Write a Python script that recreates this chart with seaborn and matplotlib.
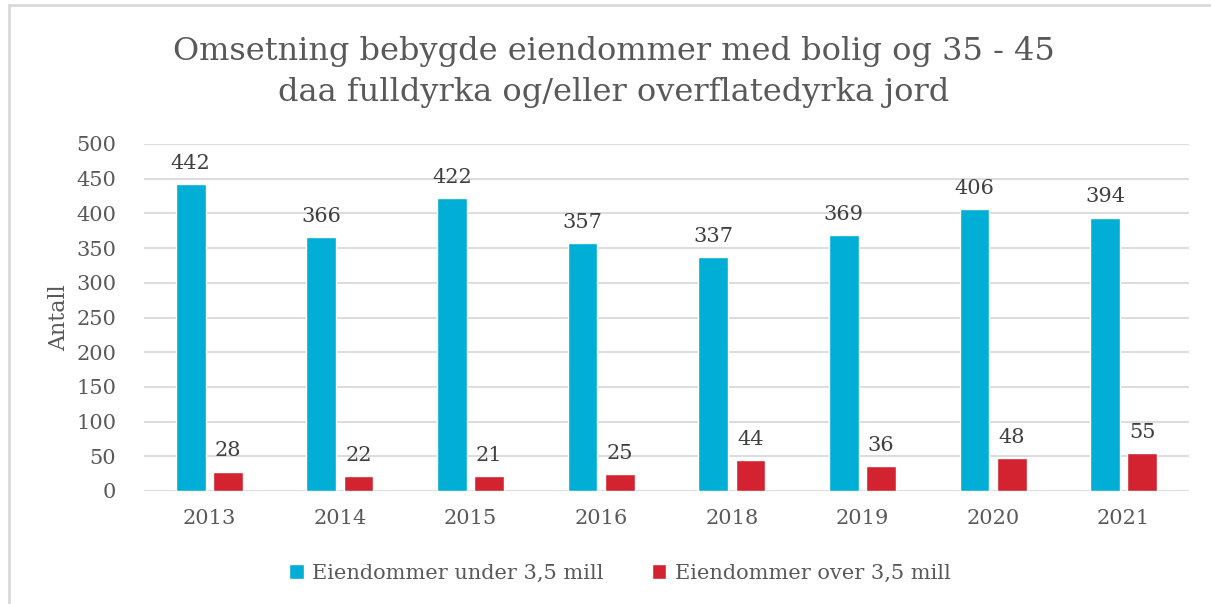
import matplotlib
matplotlib.use("Agg")
import matplotlib.pyplot as plt
import pandas as pd
import seaborn as sns
from matplotlib.patches import Rectangle

years = ["2013", "2014", "2015", "2016", "2018", "2019", "2020", "2021"]
under = [442, 366, 422, 357, 337, 369, 406, 394]
over = [28, 22, 21, 25, 44, 36, 48, 55]
series = ["Eiendommer under 3,5 mill", "Eiendommer over 3,5 mill"]
colors = ["#00AED6", "#D42330"]
txt = "#595959"

df = pd.DataFrame({
    "year": years * 2,
    "value": under + over,
    "serie": [series[0]] * len(years) + [series[1]] * len(years),
})

sns.set_theme(style="white")
plt.rcParams["font.family"] = ["DejaVu Serif"]

fig = plt.figure(figsize=(12.11, 6.04), dpi=100)
ax = fig.add_axes([144 / 1211, 1 - 491 / 604, (1189 - 144) / 1211, (491 - 144) / 604])

sns.barplot(data=df, x="year", y="value", hue="serie", palette=colors,
            width=0.57, gap=0.2, ax=ax, legend=True, saturation=1)

# data labels
for cont in ax.containers:
    ax.bar_label(cont, padding=8, fontsize=15, color="#404040")

ax.set_ylim(0, 500)
ax.set_yticks(range(0, 501, 50))
ax.set_xlim(-0.5, len(years) - 0.5)
ax.yaxis.grid(True, color="#D9D9D9", linewidth=1.3)
ax.set_axisbelow(True)
for s in ax.spines.values():
    s.set_visible(False)
ax.tick_params(axis="both", length=0, labelsize=15, labelcolor=txt)
ax.tick_params(axis="y", pad=20)
ax.tick_params(axis="x", pad=13)
ax.set_xlabel("")
ax.set_ylabel("Antall", fontsize=16, color=txt, labelpad=4)

fig.text(614 / 1211, 1 - 72 / 604,
         "Omsetning bebygde eiendommer med bolig og 35 - 45\ndaa fulldyrka og/eller overflatedyrka jord",
         ha="center", va="center", fontsize=23, color=txt, linespacing=1.45)

fig.legend(*ax.get_legend_handles_labels(), loc="center", bbox_to_anchor=(620 / 1211, 1 - 573 / 604),
           ncol=2, frameon=False, fontsize=15, labelcolor=txt, handlelength=0.7,
           handleheight=0.7, columnspacing=2.3, handletextpad=0.4)
ax.get_legend().remove()

# light border around the chart
fig.patches.append(Rectangle((9 / 1211, -0.01), 1.02, 1 - 5 / 604 + 0.01,
                             transform=fig.transFigure, fill=False,
                             edgecolor="#D9D9D9", linewidth=2))

fig.savefig("out.png", dpi=100)
